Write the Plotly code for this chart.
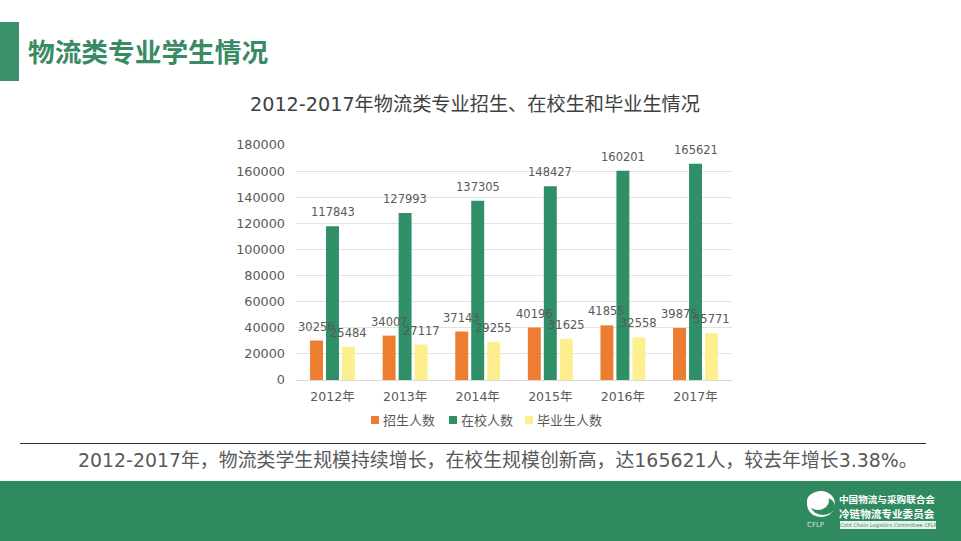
import plotly.graph_objects as go

years = ['2012年', '2013年', '2014年', '2015年', '2016年', '2017年']
enrolled = [30256, 34007, 37143, 40196, 41855, 39875]
at_school = [117843, 127993, 137305, 148427, 160201, 165621]
graduates = [25484, 27117, 29255, 31625, 32558, 35771]
y_ticks = [0, 20000, 40000, 60000, 80000, 100000, 120000, 140000, 160000, 180000]

page_title = '物流类专业学生情况'
chart_title = '2012-2017年物流类专业招生、在校生和毕业生情况'
summary = '2012-2017年，物流类学生规模持续增长，在校生规模创新高，达165621人，较去年增长3.38%。'

GREEN = '#2f8a60'
TEXT = '#595959'
FONT = 'DejaVu Sans, Noto Sans CJK SC'
W, H = 961, 541
L, R, T, B = 296, 732, 145, 380


# page pixels to paper coordinates
def px(x):
    return (x - L) / (R - L)


def py(y):
    return (B - y) / (B - T)


series = [('招生人数', enrolled, '#ed7d31'),
          ('在校人数', at_school, '#2f8f66'),
          ('毕业生人数', graduates, '#fdee8e')]

fig = go.Figure()
for name, vals, color in series:
    fig.add_trace(go.Bar(x=years, y=vals, name=name, marker=dict(color=color, line_width=0)))

# data labels sit a bit higher than plotly's outside text, so use annotations
for vals, shift in [(enrolled, -16), (at_school, 0), (graduates, 16)]:
    for year, v in zip(years, vals):
        fig.add_annotation(x=year, y=v, text=str(v), showarrow=False, xshift=shift, yshift=5,
                           yanchor='bottom', font=dict(family=FONT, size=11.5, color=TEXT))


def label(x, y, text, size, color, anchor='left', weight='normal', family=FONT):
    fig.add_annotation(xref='paper', yref='paper', x=px(x), y=py(y), text=text, showarrow=False,
                       xanchor=anchor, yanchor='middle',
                       font=dict(family=family, size=size, color=color, weight=weight))


def rect(x0, y0, x1, y1, color):
    fig.add_shape(type='rect', xref='paper', yref='paper', x0=px(x0), x1=px(x1), y0=py(y0), y1=py(y1),
                  fillcolor=color, line_width=0, layer='below')


rect(0, 22, 19, 81, '#3a9068')
rect(0, 481, W, H, GREEN)
fig.add_shape(type='line', xref='paper', yref='paper', x0=px(20), x1=px(926), y0=py(443.5), y1=py(443.5),
              line=dict(color='#333333', width=1))

label(26, 52, page_title, 26.7, '#3a8a66', weight='bold')
label(475, 104, chart_title, 19.2, '#404040', anchor='center')
label(76, 460, summary, 18.9, TEXT)

# legend drawn by hand, plotly's keys are too wide for the tight spacing here
for (name, vals, color), x_key in zip(series, [371, 449, 525]):
    rect(x_key, 416, x_key + 8, 424, color)
    label(x_key + 10, 420, name, 13, TEXT)

# logo
fig.add_shape(type='circle', xref='paper', yref='paper', x0=px(807), x1=px(835), y0=py(517), y1=py(491),
              fillcolor='white', line_width=0)
fig.add_shape(type='circle', xref='paper', yref='paper', x0=px(811), x1=px(835), y0=py(515), y1=py(497),
              fillcolor=GREEN, line_width=0)
fig.add_shape(type='circle', xref='paper', yref='paper', x0=px(807), x1=px(829), y0=py(510), y1=py(492),
              fillcolor='white', line_width=0)
rect(840, 521, 936, 529, '#e9f1ec')
label(837, 498.5, '中国物流与采购联合会', 9.6, 'white', weight='bold', family='Noto Sans CJK SC')
label(837, 513, '冷链物流专业委员会', 10.6, 'white', weight='bold', family='Noto Sans CJK SC')
label(805, 525, 'CFLP', 7, '#d5e6dc')
label(888, 525, 'Cold Chain Logistics Committee CFLP', 5.2, GREEN, anchor='center')

fig.update_layout(
    width=W, height=H,
    margin=dict(l=L, r=W - R, t=T, b=H - B, autoexpand=False),
    paper_bgcolor='white', plot_bgcolor='white',
    barmode='group', bargap=0.34, bargroupgap=0.19,
    font=dict(family=FONT, color=TEXT),
    showlegend=False,
    xaxis=dict(showgrid=False, showline=True, linecolor='#d9d9d9', linewidth=1, ticks='',
               ticklabelstandoff=5, tickfont=dict(size=12.5, color=TEXT)),
    yaxis=dict(range=[0, 180000], tickvals=y_ticks, tickformat='d', gridcolor='#e2e2e2', gridwidth=1,
               zeroline=False, showline=False, ticklen=0, ticklabelstandoff=10,
               tickfont=dict(size=12.8, color=TEXT)),
)

fig.write_html("out.html", config=dict(displayModeBar=False), post_script="document.body.style.margin='0';")
